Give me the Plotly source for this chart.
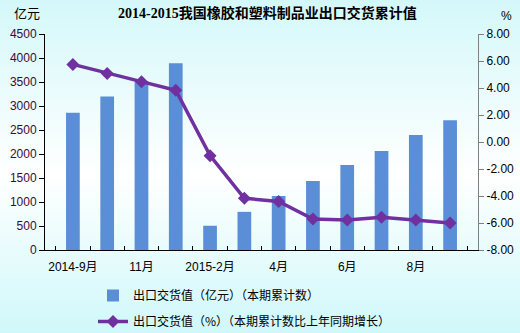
import plotly.graph_objects as go

# Monthly categories (cumulative export delivery value)
months = ["2014-9月", "2014-10月", "2014-11月", "2014-12月", "2015-2月", "2015-3月",
          "2015-4月", "2015-5月", "2015-6月", "2015-7月", "2015-8月", "2015-9月"]
tick_text = ["2014-9月", "", "11月", "", "2015-2月", "", "4月", "", "6月", "", "8月", ""]

export_value = [2860, 3200, 3520, 3890, 505, 795, 1125, 1440, 1770, 2060, 2395, 2705]
growth_pct = [5.75, 5.08, 4.47, 3.83, -1.01, -4.17, -4.40, -5.70, -5.78, -5.58, -5.78, -6.00]

left_ticks = list(range(0, 4501, 500))
right_ticks = [8, 6, 4, 2, 0, -2, -4, -6, -8]
right_text = ["8.00", "6.00", "4.00", "2.00", "0.00", "-2.00", "-4.00", "-6.00", "-8.00"]

W, H = 520, 333
M_L, M_R, M_T, M_B = 45, 42, 34, 83
plot_w = W - M_L - M_R
plot_h = H - M_T - M_B

fig = go.Figure()
fig.add_trace(go.Bar(
    x=months, y=export_value, name="出口交货值（亿元）（本期累计数）",
    marker=dict(color="#5a8ed6", line=dict(width=0)), width=0.4,
    legendgroup="a", yaxis="y",
))
fig.add_trace(go.Scatter(
    x=months, y=growth_pct, name="出口交货值（%）（本期累计数比上年同期增长）",
    mode="lines+markers", line=dict(color="#7030a0", width=3.5),
    marker=dict(symbol="diamond", size=10, color="#7030a0"),
    legendgroup="b", yaxis="y2",
))

# vertical background gradient: cyan at top and bottom, white in the middle
def bg_color(py):
    top = (212, 248, 250)
    bot = (208, 248, 250)
    mid_y = 175
    if py <= mid_y:
        t = py / mid_y
        c = [round(top[i] + (255 - top[i]) * t) for i in range(3)]
    else:
        t = (py - mid_y) / (H - mid_y)
        c = [round(255 + (bot[i] - 255) * t) for i in range(3)]
    return "rgb(%d,%d,%d)" % tuple(c)

def to_paper_y(py):
    return (H - M_B - py) / plot_h

def to_paper_x(px):
    return (px - M_L) / plot_w

shapes = []
step = 3
for py in range(0, H, step):
    shapes.append(dict(
        type="rect", xref="paper", yref="paper", layer="below",
        x0=to_paper_x(-2), x1=to_paper_x(W + 2),
        y0=to_paper_y(py + step + 0.5), y1=to_paper_y(py),
        fillcolor=bg_color(py + step / 2), line=dict(width=0),
    ))

fig.update_layout(
    width=W, height=H,
    margin=dict(l=M_L, r=M_R, t=M_T, b=M_B, pad=0, autoexpand=False),
    paper_bgcolor="#ffffff", plot_bgcolor="rgba(0,0,0,0)",
    shapes=shapes,
    font=dict(family="Arial, Liberation Sans, Noto Sans CJK SC", size=12, color="#000000"),
    showlegend=True,
    legend=dict(
        x=to_paper_x(93), xanchor="left",
        y=to_paper_y(281), yanchor="top",
        traceorder="grouped", tracegroupgap=7,
        bgcolor="rgba(0,0,0,0)", font=dict(size=12, family="Noto Sans CJK SC"),
        itemwidth=30,
    ),
    xaxis=dict(
        type="category", tickmode="array", tickvals=months, ticktext=tick_text,
        tickson="boundaries", ticks="inside", ticklen=4, tickcolor="#000",
        showline=True, linecolor="#000", linewidth=1, showgrid=False,
        tickfont=dict(size=12, color="#000"), tickangle=0, ticklabelstandoff=6,
    ),
    yaxis=dict(
        range=[0, 4500], tickmode="array", tickvals=left_ticks,
        ticks="outside", ticklen=5, tickcolor="#000",
        showline=True, linecolor="#000", linewidth=1, showgrid=False, zeroline=False,
        tickfont=dict(size=12, color="#3a0a36"),
    ),
    yaxis2=dict(
        overlaying="y", side="right", range=[-8, 8],
        tickmode="array", tickvals=right_ticks, ticktext=right_text,
        ticks="outside", ticklen=5, tickcolor="#808080",
        showline=True, linecolor="#808080", linewidth=1, showgrid=False, zeroline=False,
        tickfont=dict(size=12, color="#000"),
    ),
    annotations=[
        dict(text="<b>2014-2015我国橡胶和塑料制品业出口交货累计值</b>", xref="paper", yref="paper",
             x=to_paper_x(267), y=to_paper_y(13), xanchor="center", yanchor="middle",
             showarrow=False, font=dict(size=14, family="Liberation Serif, Noto Sans CJK SC", color="#000")),
        dict(text="亿元", xref="paper", yref="paper",
             x=to_paper_x(27), y=to_paper_y(13), xanchor="center", yanchor="middle",
             showarrow=False, font=dict(size=13, family="Noto Sans CJK SC", color="#000")),
        dict(text="%", xref="paper", yref="paper",
             x=to_paper_x(506), y=to_paper_y(16), xanchor="center", yanchor="middle",
             showarrow=False, font=dict(size=12, color="#000")),
    ],
)

fig.write_html("out.html")
